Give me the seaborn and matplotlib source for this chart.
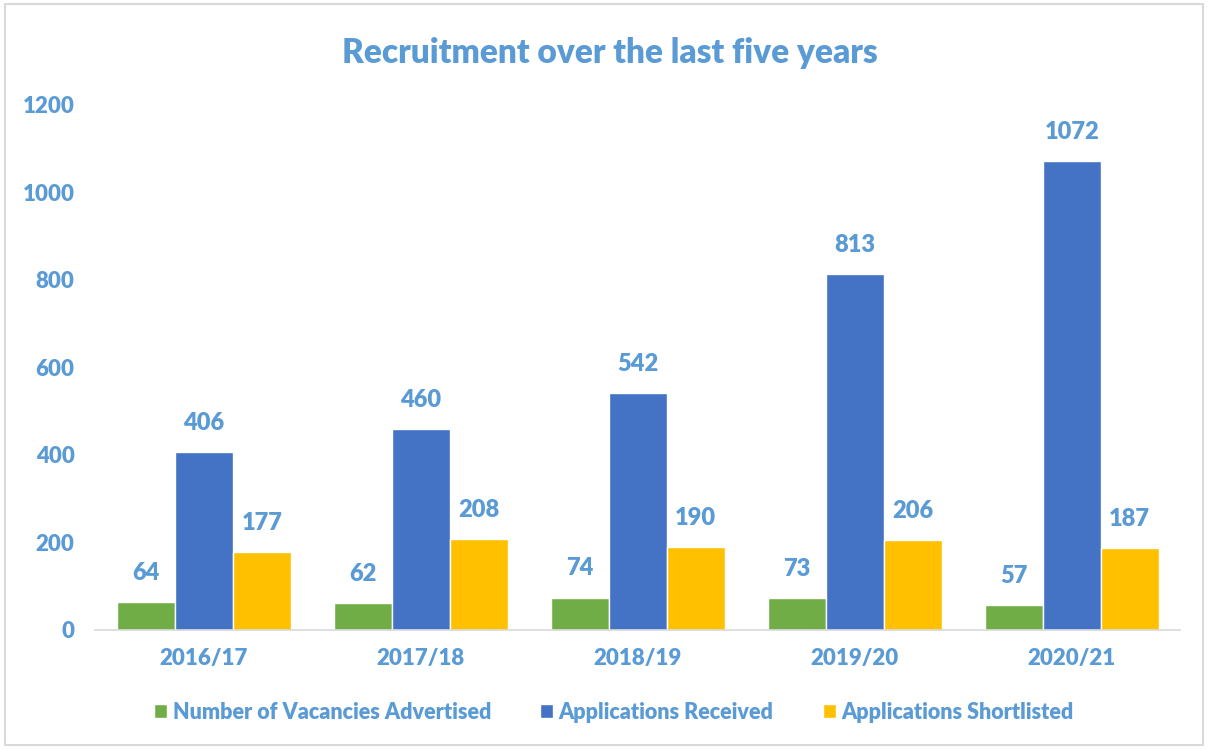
import matplotlib
matplotlib.use('Agg')
import matplotlib.pyplot as plt
import seaborn as sns
import pandas as pd
from matplotlib.patches import Rectangle

years = ['2016/17', '2017/18', '2018/19', '2019/20', '2020/21']
vacancies = [64, 62, 74, 73, 57]
received = [406, 460, 542, 813, 1072]
shortlisted = [177, 208, 190, 206, 187]
series = ['Number of Vacancies Advertised', 'Applications Received', 'Applications Shortlisted']
colors = ['#70AD47', '#4472C4', '#FFC000']
text_color = '#5B9BD5'
weight = 'heavy'

rows = []
for name, vals in zip(series, [vacancies, received, shortlisted]):
    for y, v in zip(years, vals):
        rows.append({'year': y, 'series': name, 'value': v})
df = pd.DataFrame(rows)

sns.set_style('white')
plt.rcParams['font.family'] = ['Lato', 'DejaVu Sans']

fig = plt.figure(figsize=(12.08, 7.49), dpi=100)
ax = fig.add_axes([0.079, 0.159, 0.898, 0.701])

sns.barplot(data=df, x='year', y='value', hue='series', hue_order=series,
            palette=colors, width=0.8, ax=ax, saturation=1, legend=True)

for cont in ax.containers:
    ax.bar_label(cont, padding=13, color=text_color, fontsize=17, fontweight=weight)

ax.set_ylim(0, 1200)
ax.set_yticks(range(0, 1201, 200))
ax.set_xlabel('')
ax.set_ylabel('')
for s in ['top', 'right', 'left']:
    ax.spines[s].set_visible(False)
ax.spines['bottom'].set_color('#D9D9D9')
ax.spines['bottom'].set_linewidth(1.2)
ax.tick_params(axis='both', length=0, labelsize=16, labelcolor=text_color)
ax.tick_params(axis='x', pad=13)
ax.tick_params(axis='y', pad=15)
for lab in ax.get_xticklabels() + ax.get_yticklabels():
    lab.set_fontweight(weight)

ax.set_title('Recruitment over the last five years', color=text_color, fontsize=24,
             fontweight=weight, pad=30, x=0.474)

leg = ax.legend(loc='upper center', bbox_to_anchor=(0.478, -0.1), ncol=3, frameon=False,
                handlelength=0.6, handleheight=0.6, handletextpad=0.25, columnspacing=2.3,
                fontsize=15.5)
for t in leg.get_texts():
    t.set_color(text_color)
    t.set_fontweight(weight)

fig.patches.append(Rectangle((0.004, 0.005), 0.992, 0.99, transform=fig.transFigure,
                             fill=False, edgecolor='#D9D9D9', linewidth=1.5))

fig.savefig('out.png', dpi=100)
